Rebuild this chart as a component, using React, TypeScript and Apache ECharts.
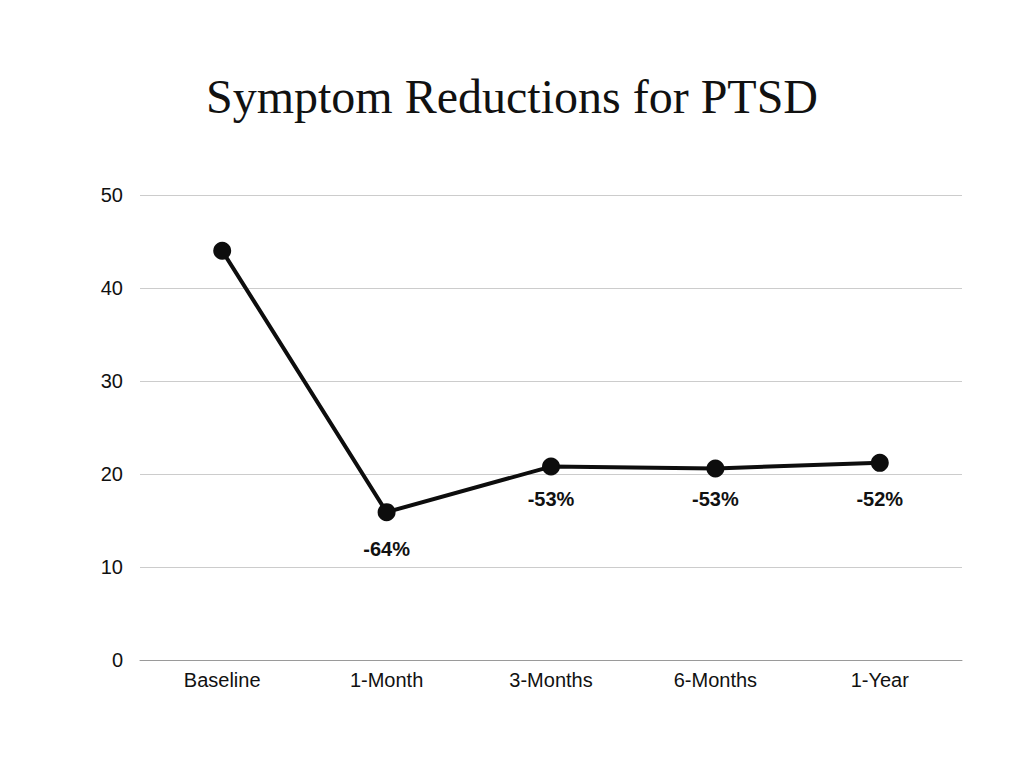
import React, { useEffect, useRef } from "react";
import * as echarts from "echarts";

const categories = ["Baseline", "1-Month", "3-Months", "6-Months", "1-Year"];
const scores = [44.0, 15.9, 20.8, 20.6, 21.2];
const changeLabels = ["", "-64%", "-53%", "-53%", "-52%"];
const labelDistances = [13, 17.5, 13, 11.2, 16.8];
const yTicks = { min: 0, max: 50, interval: 10 };

export default function App() {
  const ref = useRef<HTMLDivElement>(null);
  useEffect(() => {
    document.body.style.margin = "0";
    const chart = echarts.init(ref.current!, undefined, { renderer: "svg" });
    const sans = "'Liberation Sans', Arial, Helvetica, sans-serif";
    chart.setOption({
      animation: false,
      backgroundColor: "#ffffff",
      title: {
        text: "Symptom Reductions for PTSD",
        left: "center",
        top: 67,
        textStyle: {
          fontFamily: "'Liberation Serif', 'Times New Roman', serif",
          fontSize: 48,
          fontWeight: "normal",
          color: "#111111",
        },
      },
      grid: { left: 140, right: 62, top: 195, bottom: 108, containLabel: false },
      xAxis: {
        type: "category",
        data: categories,
        boundaryGap: true,
        axisLine: { show: true, lineStyle: { color: "#9a9a9a", width: 1 } },
        axisTick: { show: false },
        axisLabel: { color: "#111111", fontSize: 20, fontFamily: sans, margin: 10 },
        splitLine: { show: false },
      },
      yAxis: {
        type: "value",
        min: yTicks.min,
        max: yTicks.max,
        interval: yTicks.interval,
        axisLine: { show: false },
        axisTick: { show: false },
        axisLabel: { color: "#111111", fontSize: 20, fontFamily: sans, margin: 17 },
        splitLine: { show: true, lineStyle: { color: "#cccccc", width: 1 } },
      },
      series: [
        {
          type: "line",
          data: scores.map((v, i) => ({
            value: v,
            label: {
              show: changeLabels[i] !== "",
              formatter: changeLabels[i],
              distance: labelDistances[i],
            },
          })),
          symbol: "circle",
          symbolSize: 18,
          lineStyle: { color: "#0d0d0d", width: 4 },
          itemStyle: { color: "#0d0d0d" },
          label: {
            show: true,
            position: "bottom",
            color: "#111111",
            fontSize: 20,
            fontWeight: "bold",
            fontFamily: sans,
          },
        },
      ],
    });
    return () => chart.dispose();
  }, []);
  return <div ref={ref} style={{ width: 1024, height: 768 }} />;
}
